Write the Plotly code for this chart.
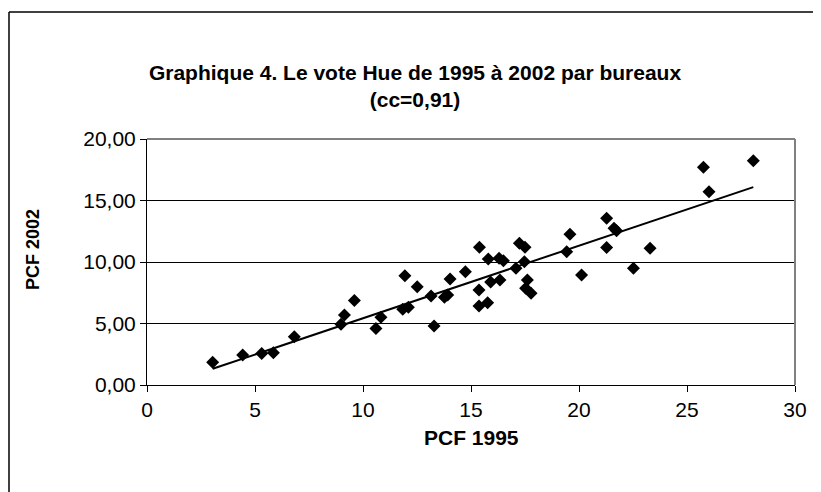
import numpy as np
import plotly.graph_objects as go

# PCF vote share by polling station (bureau), 1995 vs 2002
pcf_1995 = [3.04, 4.43, 5.31, 5.85, 6.82, 8.98, 9.14, 9.6, 10.6, 10.83,
            11.94, 11.84, 12.1, 12.51, 13.15, 13.29, 13.77, 13.92, 14.03, 14.74,
            15.39, 15.37, 15.37, 15.77, 15.8, 15.91, 16.3, 16.34, 16.5, 17.08,
            17.24, 17.5, 17.47, 17.61, 17.53, 17.78, 19.43, 19.58, 20.12, 21.28,
            21.28, 21.62, 21.74, 22.52, 23.29, 25.76, 26.02, 28.07]
pcf_2002 = [1.85, 2.44, 2.57, 2.63, 3.93, 4.93, 5.69, 6.88, 4.6, 5.5,
            8.89, 6.15, 6.32, 7.99, 7.24, 4.8, 7.13, 7.32, 8.62, 9.21,
            11.2, 7.72, 6.42, 6.69, 10.24, 8.37, 10.3, 8.54, 10.1, 9.49,
            11.52, 11.2, 10.03, 8.54, 7.86, 7.45, 10.84, 12.25, 8.94, 13.55,
            11.17, 12.74, 12.55, 9.49, 11.11, 17.7, 15.72, 18.24]

title_text = "Graphique 4. Le vote Hue de 1995 à 2002 par bureaux<br>(cc=0,91)"
x_title = "PCF 1995"
y_title = "PCF 2002"

# linear trend line (Excel-style, spanning min..max of x)
slope, intercept = np.polyfit(pcf_1995, pcf_2002, 1)
tx = np.array([min(pcf_1995), max(pcf_1995)])
ty = slope * tx + intercept

# page body has an 8px margin: work in figure coordinates = screen - 8
OFF = 8
W, H = 813, 484
L = 147 - OFF
T = 139 - OFF
R = W - (795 - OFF)
B = H - (385 - OFF)
pw, ph = W - L - R, H - T - B

def px_to_paper_x(px):
    return (px - OFF - L) / pw

def px_to_paper_y(py):
    return (H - B - (py - OFF)) / ph

FONT = "Liberation Sans, Arial, sans-serif"

fig = go.Figure()
fig.add_trace(go.Scatter(
    x=tx, y=ty, mode="lines",
    line=dict(color="black", width=2),
    hoverinfo="skip", showlegend=False))
fig.add_trace(go.Scatter(
    x=pcf_1995, y=pcf_2002, mode="markers",
    marker=dict(symbol="diamond", size=10, color="black",
                line=dict(width=0)),
    showlegend=False))

fig.update_layout(
    width=W, height=H,
    margin=dict(l=L, r=R, t=T, b=B, pad=0),
    paper_bgcolor="white", plot_bgcolor="white",
    separators=", ",
    font=dict(family=FONT, color="black", size=21),
    title=dict(text="<b>" + title_text.replace("<br>", "</b><br><b>") + "</b>",
               x=(415 - OFF) / W, xref="container", xanchor="center",
               y=1 - 72 / H, yref="container", yanchor="middle",
               font=dict(family=FONT, size=21, color="black")),
    xaxis=dict(range=[0, 30], dtick=5, tick0=0, showgrid=False,
               showline=True, linecolor="black", linewidth=1,
               ticks="outside", ticklen=6, tickcolor="black",
               tickfont=dict(size=21), zeroline=False, fixedrange=True),
    yaxis=dict(range=[0, 20], dtick=5, tick0=0, tickformat=".2f",
               showgrid=True, gridcolor="black", gridwidth=1,
               showline=True, linecolor="black", linewidth=1,
               ticks="outside", ticklen=6, tickcolor="black",
               tickfont=dict(size=21), zeroline=False, fixedrange=True),
    annotations=[
        dict(text="<b>" + x_title + "</b>", xref="paper", yref="paper",
             x=0.5, y=px_to_paper_y(437), xanchor="center", yanchor="middle",
             showarrow=False, font=dict(size=21)),
        dict(text="<b>" + y_title + "</b>", xref="paper", yref="paper",
             x=px_to_paper_x(33), y=px_to_paper_y(250), xanchor="center",
             yanchor="middle", textangle=-90, showarrow=False,
             font=dict(size=18)),
    ],
    shapes=[
        # plot area grey border (top and right)
        dict(type="line", xref="paper", yref="paper", x0=0, x1=1, y0=1, y1=1,
             line=dict(color="#808080", width=2), layer="above"),
        dict(type="line", xref="paper", yref="paper", x0=1, x1=1, y0=0, y1=1,
             line=dict(color="#808080", width=2), layer="above"),
        # outer chart frame (top and left)
        dict(type="line", xref="paper", yref="paper",
             x0=px_to_paper_x(9), x1=px_to_paper_x(W + 20),
             y0=px_to_paper_y(12), y1=px_to_paper_y(12),
             line=dict(color="#404040", width=2)),
        dict(type="line", xref="paper", yref="paper",
             x0=px_to_paper_x(9), x1=px_to_paper_x(9),
             y0=px_to_paper_y(12), y1=px_to_paper_y(H + 20),
             line=dict(color="black", width=1.5)),
    ],
)

fig.write_html("out.html")
